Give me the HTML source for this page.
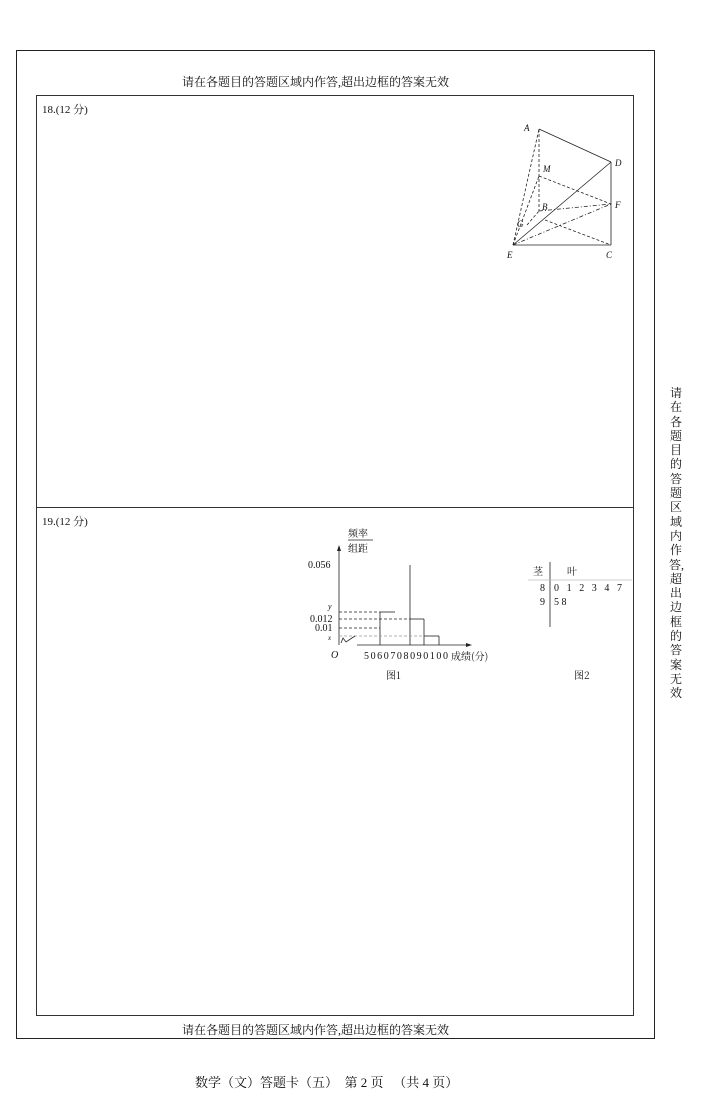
<!DOCTYPE html>
<html><head><meta charset="utf-8"><style>
body{margin:0;background:#fff;width:710px;height:1102px;overflow:hidden;font-family:"Liberation Serif","Noto Serif CJK SC",serif;}
.t{position:absolute;font-size:12px;color:#111;white-space:nowrap}
</style></head><body>
<div style="position:absolute;left:16px;top:50px;width:637px;height:987px;border:1px solid #222"></div>
<div style="position:absolute;left:36px;top:95px;width:596px;height:919px;border:1px solid #333"></div>
<div style="position:absolute;left:36px;top:507px;width:597px;height:1px;background:#333"></div>
<div class="t" style="left:182px;top:73px">请在各题目的答题区域内作答,超出边框的答案无效</div>
<div class="t" style="left:182px;top:1021px">请在各题目的答题区域内作答,超出边框的答案无效</div>
<div class="t" style="left:42px;top:101px;font-size:11px">18.(12 分)</div>
<div class="t" style="left:42px;top:513px;font-size:11px">19.(12 分)</div>
<div class="t" style="left:669px;top:386px;font-size:12px;line-height:14.3px;width:14px;white-space:normal;text-align:center">请在各题目的答题区域内作答,超出边框的答案无效</div>
<div class="t" style="left:195px;top:1072px;font-size:13px">数学（文）答题卡（五） &nbsp;第 2 页 &nbsp; （共 4 页）</div>
<svg style="position:absolute;left:0;top:0" width="710" height="1102" font-family="Liberation Serif" font-size="9">
<g stroke="#222" stroke-width="0.8" fill="none">
<line x1="539" y1="129" x2="611" y2="162"/><line x1="611" y1="162" x2="611" y2="245"/>
<line x1="513" y1="245" x2="611" y2="245"/><line x1="513" y1="245" x2="611" y2="162"/>
<g stroke-dasharray="3,2"><line x1="513" y1="245" x2="539" y2="129"/><line x1="539" y1="129" x2="539" y2="211"/>
<line x1="539" y1="176" x2="611" y2="204"/><line x1="513" y1="245" x2="539" y2="176"/>
<line x1="545" y1="220" x2="611" y2="245"/><line x1="527" y1="225" x2="539" y2="211"/></g>
<g stroke-dasharray="4,2,1,2"><line x1="513" y1="245" x2="611" y2="204"/><line x1="539" y1="211" x2="611" y2="204"/></g>
<line x1="339" y1="548" x2="339" y2="645"/><line x1="357" y1="645" x2="470" y2="645"/>
<line x1="410" y1="565" x2="410" y2="645"/>
<line x1="380" y1="612" x2="380" y2="645"/><line x1="380" y1="612" x2="395" y2="612"/>
<line x1="410" y1="619" x2="424" y2="619"/><line x1="424" y1="619" x2="424" y2="645"/>
<line x1="424" y1="636" x2="439" y2="636"/><line x1="439" y1="636" x2="439" y2="645"/>
<g stroke-dasharray="3,2"><line x1="339" y1="612" x2="380" y2="612"/><line x1="339" y1="619" x2="410" y2="619"/><line x1="339" y1="628" x2="380" y2="628"/></g>
<line x1="339" y1="636" x2="424" y2="636" stroke="#999" stroke-dasharray="3,2"/>
<path d="M341 643 L343 638 L346 642 L355 636"/>
<line x1="348" y1="540" x2="373" y2="540"/>
<line x1="550" y1="562" x2="550" y2="627"/>
<line x1="528" y1="580" x2="632" y2="580" stroke="#bbb"/>
</g>
<path d="M339 545 L337 551 L341 551Z" fill="#222"/><path d="M472 645 L466 643 L466 647Z" fill="#222"/>
<g fill="#111" font-style="italic">
<text x="524" y="131">A</text><text x="615" y="166">D</text><text x="543" y="172">M</text><text x="615" y="208">F</text>
<text x="542" y="210">B</text><text x="517" y="227">G</text><text x="507" y="258">E</text><text x="606" y="258">C</text>
<text x="331" y="658" font-size="10">O</text><text x="328" y="609" font-size="8">y</text><text x="328" y="640" font-size="7">x</text>
</g>
<g fill="#111" font-size="10">
<text x="348" y="537" font-family="Noto Serif CJK SC">频率</text><text x="348" y="552" font-family="Noto Serif CJK SC">组距</text>
<text x="308" y="568">0.056</text><text x="310" y="622">0.012</text><text x="315" y="631">0.01</text>
<text x="364" y="659" textLength="84" lengthAdjust="spacing">5060708090100</text><text x="451" y="660" font-family="Noto Serif CJK SC">成绩(分)</text>
<text x="386" y="679" font-family="Noto Serif CJK SC">图1</text><text x="574" y="679" font-family="Noto Serif CJK SC">图2</text>
<text x="533" y="575" font-family="Noto Serif CJK SC">茎</text><text x="567" y="575" font-family="Noto Serif CJK SC">叶</text>
<text x="540" y="591">8</text><text x="554" y="591" textLength="68" lengthAdjust="spacing">0 1 2 3 4 7</text>
<text x="540" y="605">9</text><text x="554" y="605">5 8</text>
</g>
</svg>
</body></html>
